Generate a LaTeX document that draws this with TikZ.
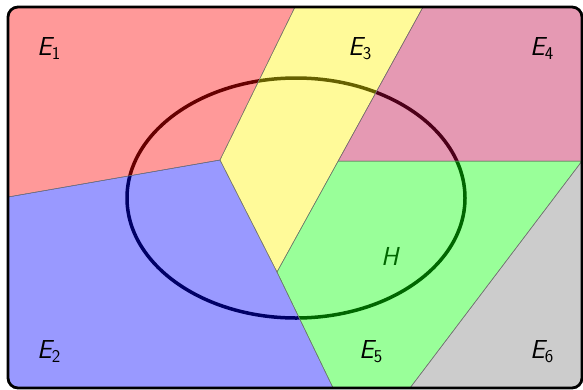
\documentclass[tikz,border=0pt]{standalone}
\begin{document}
\begin{tikzpicture}[x=1pt,y=-1pt,
  region/.style={draw=black!55,line width=0.5pt,fill opacity=0.4},
  lab/.style={anchor=base west,inner sep=0pt,font=\fontsize{26}{30}\selectfont\sffamily\itshape},
  hlab/.style={lab,text=black}]
\newcommand{\lbl}[1]{E\raisebox{-4pt}{\fontsize{18}{20}\selectfont\upshape #1}}
\useasboundingbox (0,0) rectangle (583,389);
% key points
\coordinate (TL) at (0,0);
\coordinate (TR) at (595,0);
\coordinate (BR) at (595,400);
\coordinate (BL) at (0,400);
\coordinate (L12) at (0,198.4);
\coordinate (A) at (220,160);
\coordinate (T13) at (298.4,0);
\coordinate (T34) at (426.9,0);
\coordinate (B) at (277,272);
\coordinate (C) at (338.2,161);
\coordinate (J) at (582,161);
\coordinate (R45) at (595,161);
\coordinate (B25) at (338.9,400);
\coordinate (B56) at (400.9,400);
% ellipse and H under the translucent regions
\draw[line width=3.5pt,draw=black] (296,198) ellipse [x radius=169, y radius=120];
\node[hlab] (h) at (381,265) {H};
\begin{scope}
\clip[rounded corners=10pt] (8,7) rectangle (582,388);
\filldraw[region,fill=red] (TL) -- (T13) -- (A) -- (L12) -- cycle;
\filldraw[region,fill=blue] (L12) -- (A) -- (B) -- (B25) -- (BL) -- cycle;
\filldraw[region,fill=yellow] (T13) -- (T34) -- (B) -- (A) -- cycle;
\filldraw[region,fill=purple] (T34) -- (TR) -- (R45) -- (C) -- cycle;
\filldraw[region,fill=green] (C) -- (J) -- (B56) -- (B25) -- (B) -- cycle;
\filldraw[region,fill=gray] (J) -- (R45) -- (BR) -- (B56) -- cycle;
\end{scope}
\draw[line width=2.8pt,rounded corners=10pt] (8,7) rectangle (582,388);
\node[lab] (e1) at (37,55) {\lbl{1}};
\node[lab] (e2) at (37,358) {\lbl{2}};
\node[lab] (e3) at (348,55) {\lbl{3}};
\node[lab] (e4) at (530,55) {\lbl{4}};
\node[lab] (e5) at (359,358) {\lbl{5}};
\node[lab] (e6) at (530,358) {\lbl{6}};
\end{tikzpicture}
\end{document}
